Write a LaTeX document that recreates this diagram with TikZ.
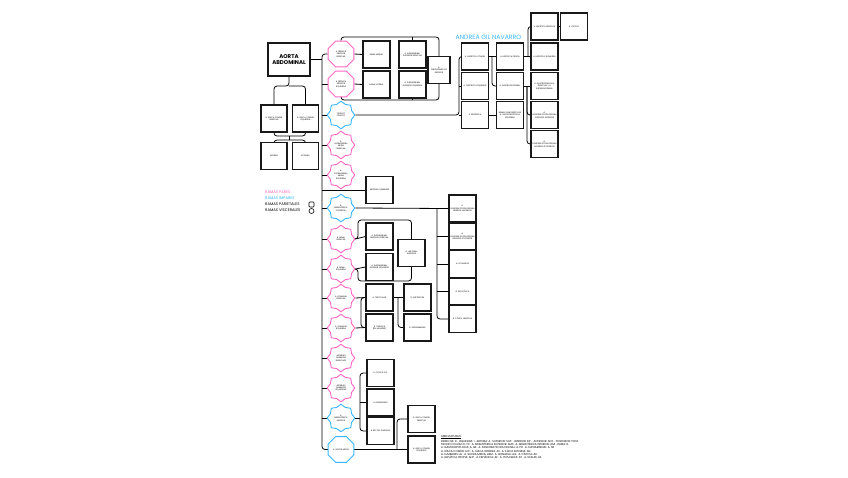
\documentclass[tikz,border=0pt]{standalone}
\usepackage{fontspec}
\setmainfont{Poppins}
\usetikzlibrary{shapes.geometric,backgrounds}
\definecolor{pinkc}{HTML}{FF66C4}
\definecolor{bluec}{HTML}{38B6FF}
\newcommand{\tf}{\fontsize{2}{2.4}\selectfont}
\begin{document}
\begin{tikzpicture}[x=1pt,y=-1pt,
 bx/.style={draw=black!90,line width=1.1pt,fill=white,minimum width=27pt,minimum height=27pt,inner sep=0.5pt,text width=24pt,align=center,font=\tf},
 conn/.style={draw=black,line width=0.8pt,rounded corners=3pt},
 oct/.style={regular polygon,regular polygon sides=8,minimum size=28pt,inner sep=0pt,line width=0.9pt,fill=white},
 st/.style={star,star points=8,star point ratio=1.2,minimum size=27.5pt,inner sep=0pt,line width=0.9pt,fill=white},
 lt/.style={font=\tf,align=center,inner sep=0pt,text width=18pt},
 pk/.style={draw=pinkc},
 bl/.style={draw=bluec},
 leg/.style={anchor=west,font=\fontsize{3.8}{4.2}\selectfont,inner sep=0pt}
 ]
\useasboundingbox (0,0) rectangle (848,477);
% ---- main nodes
\node[draw=black!90,line width=1.1pt,fill=white,minimum width=42pt,minimum height=33pt,inner sep=0pt,font=\bfseries\fontsize{5.5}{6.3}\selectfont,align=center] (aorta) at (289,59.5) {AORTA\\ABDOMINAL};
\node[bx,minimum width=26pt] (il1) at (274,118.5) {A. ILÍACA COMÚN\\DERECHA};
\node[bx,minimum width=26pt] (il2) at (305.5,118.5) {A. ILÍACA COMÚN\\IZQUIERDA};
\node[bx,minimum width=26pt] (ie1) at (274,156) {INTERNA};
\node[bx,minimum width=26pt] (ie2) at (305.5,156) {EXTERNA};
% left column of branches
\node[oct,pk,label={[lt]center:A. FRÉNICA\\INFERIOR DERECHA}] (fi1) at (341,54) {};
\node[oct,pk,label={[lt]center:A. FRÉNICA\\INFERIOR\\IZQUIERDA}] (fi2) at (341,84) {};
\node[st,bl,label={[lt]center:TRONCO\\CELÍACO}] (tc) at (341,115) {};
\node[st,pk,label={[lt]center:A.\\SUPRARRENAL\\MEDIA\\DERECHA}] (smd) at (341,145) {};
\node[st,pk,label={[lt]center:A.\\SUPRARRENAL\\MEDIA\\IZQUIERDA}] (smi) at (341,175) {};
\node[st,bl,label={[lt]center:A.\\MESENTÉRICA\\SUPERIOR}] (ms) at (341,208) {};
\node[st,pk,label={[lt]center:A. RENAL\\DERECHA}] (rd) at (341,239) {};
\node[st,pk,label={[lt]center:A. RENAL\\IZQUIERDA}] (ri) at (341,269) {};
\node[st,pk,label={[lt]center:A. GONADAL\\DERECHA}] (gd) at (341,298) {};
\node[st,pk,label={[lt]center:A. GONADAL\\IZQUIERDA}] (gi) at (341,328) {};
\node[st,pk,label={[lt]center:ARTERIAS\\LUMBARES\\DERECHAS}] (ld) at (341,358) {};
\node[st,pk,label={[lt]center:ARTERIAS\\LUMBARES\\IZQUIERDAS}] (li) at (341,388) {};
\node[st,bl,label={[lt]center:A.\\MESENTÉRICA\\INFERIOR}] (mi) at (341,418) {};
\node[oct,bl,label={[lt]center:A. SACRA MEDIA}] (sm) at (341,449.5) {};
% phrenic branches
\node[bx] (pa) at (376.5,54.5) {RAMA MEDIAL};
\node[bx] (pb) at (412.5,54.5) {A. SUPRARRENAL\\SUPERIOR DERECHA};
\node[bx] (pc) at (376.5,84.5) {RAMA LATERAL};
\node[bx] (pd) at (412.5,84.5) {A. SUPRARRENAL\\SUPERIOR IZQUIERDA};
\node[bx,minimum width=22pt,text width=20pt] (pe) at (439,70) {A.\\DIAFRAGMÁTICA\\INFERIOR};
% celiac
\node[bx] (c10) at (475,56.5) {A. HEPÁTICA COMÚN};
\node[bx] (c11) at (475,86) {A. GÁSTRICA IZQUIERDA};
\node[bx] (c12) at (475,115) {A. ESPLÉNICA};
\node[bx] (c20) at (510,56.5) {A. HEPÁTICA PROPIA};
\node[bx] (c21) at (510,86) {A. GASTRODUODENAL};
\node[bx] (c22) at (510,115) {RAMAS PANCREÁTICAS\\A. GASTROEPIPLOICA\\IZQUIERDA};
\node[bx] (c30) at (544.5,26.5) {A. HEPÁTICA DERECHA};
\node[bx] (c31) at (544.5,56.5) {A. HEPÁTICA IZQUIERDA};
\node[bx] (c32) at (544.5,86) {A. GASTROEPIPLOICA\\DERECHA Y A.\\SUPRADUODENAL};
\node[bx] (c33) at (544.5,115) {A.\\PANCREATICODUODENAL\\SUPERIOR ANTERIOR};
\node[bx] (c34) at (544.5,144) {A.\\PANCREATICODUODENAL\\SUPERIOR POSTERIOR};
\node[bx] (c40) at (574,26.5) {A. CÍSTICA};
% lumbar box
\node[bx] (lb) at (379.5,190) {ARTERIAS LUMBARES};
% mesenterica superior
\node[bx] (s0) at (462.5,208.5) {A.\\PANCREATICODUODENAL\\INFERIOR ANTERIOR};
\node[bx] (s1) at (462.5,236.5) {A.\\PANCREATICODUODENAL\\INFERIOR POSTERIOR};
\node[bx] (s2) at (462.5,264) {A. YEYUNALES};
\node[bx] (s3) at (462.5,291.5) {A. ILEOCÓLICA};
\node[bx] (s4) at (462.5,319) {A. CÓLICA DERECHA};
% renal
\node[bx] (sid) at (379.5,236.5) {A. SUPRARRENAL\\INFERIOR DERECHA};
\node[bx] (sii) at (379.5,267) {A. SUPRARRENAL\\INFERIOR IZQUIERDA};
\node[bx] (ur) at (411.5,253) {A. URETERAL\\SUPERIOR};
% gonadal
\node[bx] (g1) at (379.5,297.5) {A. TESTICULAR};
\node[bx] (g2) at (379.5,327.5) {A. OVÁRICA\\(EN MUJERES)};
\node[bx] (g3) at (417.5,297.5) {R. URETÉRICAS};
\node[bx] (g4) at (417.5,327.5) {R. EPIDIDIMARIAS};
% mesenterica inferior
\node[bx] (m0) at (380.5,373) {A. CÓLICA IZQ.};
\node[bx] (m1) at (380.5,402.5) {A. SIGMOIDEAS};
\node[bx] (m2) at (380.5,431) {A. RECTAL SUPERIOR};
\node[bx] (ci1) at (421.5,419) {A. ILÍACA COMÚN\\DERECHA};
\node[bx] (ci2) at (421.5,449.5) {A. ILÍACA COMÚN\\IZQUIERDA};
% texts
\node[font=\fontsize{6.2}{6.2}\selectfont,text=bluec,inner sep=0pt] (title) at (488.5,37) {ANDREA GIL NAVARRO};
\node[leg,text=pinkc] (l1) at (265,192) {RAMAS PARES};
\node[leg,text=bluec] (l2) at (265,198) {RAMAS IMPARES};
\node[leg] (l3) at (265,204.5) {RAMAS PARIETALES};
\node[leg] (l4) at (265,210.5) {RAMAS VISCERALES};
\node[draw,line width=0.6pt,rounded corners=0.8pt,minimum size=5pt,inner sep=0pt] (i1) at (311.5,204.5) {};
\node[draw,circle,line width=0.6pt,minimum size=5pt,inner sep=0pt] (i2) at (311.5,211) {};
\node[anchor=north west,inner sep=0pt,align=left,font=\fontsize{2.75}{3.3}\selectfont] (abr) at (441,435) {\underline{ABREVIATURAS:}\\
DERECHA: D · IZQUIERDA: I · ARTERIA: A · SUPERIOR: SUP. · INFERIOR: INF. · ANTERIOR: ANT. · POSTERIOR: POST.\\
TRONCO CELÍACO: TC · A. MESENTÉRICA SUPERIOR: AMS · A. MESENTÉRICA INFERIOR: AMI · RAMA: R.\\
A. GASTROEPIPLOICA: A. GE · A. PANCREATICODUODENAL: A. PD · A. SUPRARRENAL: A. SR\\
A. ILÍACA COMÚN: AIC · A. ILÍACA INTERNA: AII · A. ILÍACA EXTERNA: AIE\\
A. LUMBARES: AL · A. SACRA MEDIA: ASM · A. GONADAL: AG · A. CÍSTICA: AC\\
A. HEPÁTICA PROPIA: AHP · A. ESPLÉNICA: AE · A. YEYUNALES: AY · A. ILEALES: AIL};
% ---- connectors
\begin{pgfonlayer}{background}
\fill[white] (0,0) rectangle (848,477);
% aorta
\draw[conn] (aorta.south) -- (289,86) -| (il1.north);
\draw[conn] (289,86) -| (il2.north);
\draw[conn] (il1.south) |- (289,136) -| (il2.south);
\draw[conn] (289,136) -- (289,140);
\draw[conn] (ie1.north) |- (289,140) -| (ie2.north);
% trunk
\draw[conn] (aorta.east) -- (322,59.5);
\draw[conn] (fi1.west) -| (322,449.5) -- (ci2.west);
\draw[conn] (397,449.5) |- (ci1.west);
\foreach \n in {tc,smd,smi,ms,rd,ri,gd,gi,ld,li,mi} \draw[conn] (322,0 |- \n.west) -- (\n.west);
\draw[conn] (322,84) -- (fi2.west);
\draw[conn] (322,190) -- (lb.west);
% phrenic
\draw[conn] (fi1.east) -- (pa.west);
\draw[conn] (fi2.east) -- (pc.west);
\draw[conn] (fi1.north) |- (439,37) -- (pe.north);
\draw[conn] (412.5,37) -- (pb.north);
\draw[conn] (fi2.south) |- (439,100) -- (pe.south);
\draw[conn] (412.5,100) -- (pd.south);
% celiac
\draw[conn] (tc.east) -| (459,56.5) -- (c10.west);
\draw[conn] (459,86) -- (c11.west);
\draw[conn] (459,115) -- (c12.west);
\draw[conn] (c10.east) -- (c20.west);
\draw[conn] (492,56.5) |- (c21.west);
\draw[conn] (c12.east) -- (c22.west);
\draw[conn] (c20.east) -- (c31.west);
\draw[conn] (528,56.5) |- (c30.west);
\draw[conn] (c30.east) -- (c40.west);
\draw[conn] (c21.east) -- (c32.west);
\draw[conn] (527,86) |- (c33.west);
\draw[conn] (527,86) |- (c34.west);
% mesenterica superior
\draw[conn] (ms.east) -- (s0.west);
\draw[conn] (437,208.5) |- (s4.west);
\draw[conn] (437,236.5) -- (s1.west);
\draw[conn] (437,264) -- (s2.west);
\draw[conn] (437,291.5) -- (s3.west);
% renal
\draw[conn] (rd.east) -- (sid.west);
\draw[conn] (rd.east) -- (358,239) |- (411.5,220) -- (ur.north);
\draw[conn] (ri.east) -- (sii.west);
\draw[conn] (ri.east) -- (358,269) |- (411.5,281) -- (ur.south);
% gonadal
\draw[conn] (gd.east) -- (g1.west);
\draw[conn] (gi.east) -- (g2.west);
\draw[conn] (g1.west) -| (361,327.5) -- (g2.west);
\draw[conn] (g1.east) -- (g3.west);
\draw[conn] (398,297.5) |- (g4.west);
% mesenterica inferior
\draw[conn] (mi.east) -- (360,418);
\draw[conn] (m0.west) -| (360,431) -- (m2.west);
\draw[conn] (360,402.5) -- (m1.west);
\end{pgfonlayer}
\end{tikzpicture}
\end{document}
